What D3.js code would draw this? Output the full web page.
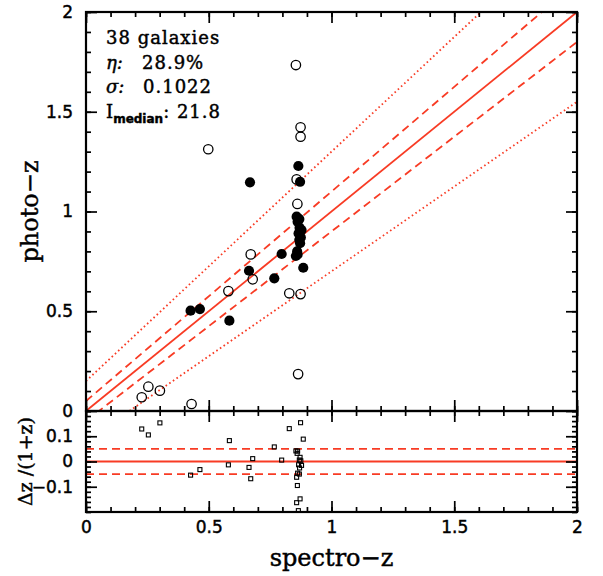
<!DOCTYPE html>
<html><head><meta charset="utf-8">
<script src="https://cdn.jsdelivr.net/npm/d3@7"></script>
<style>body{margin:0;background:#fff} text{stroke:#000;stroke-width:0.45px}</style>
</head><body>
<svg id="c" width="603" height="576"></svg>
<script>
// ---- data ----
const openSpec  = [0.227,0.254,0.301,0.430,0.864,0.874,0.828,0.580,0.679,0.671,0.861,0.858,0.498,0.874,0.874,0.855];
const openPhoto = [0.069,0.122,0.102,0.035,0.185,0.586,0.590,0.601,0.660,0.785,1.038,1.161,1.312,1.375,1.422,1.734];
const filledSpec  = [0.426,0.464,0.584,0.664,0.767,0.797,0.668,0.865,0.872,0.858,0.869,0.862,0.878,0.870,0.866,0.875,0.869,0.872,0.860,0.855,0.862,0.885];
const filledPhoto = [0.503,0.511,0.453,0.703,0.665,0.787,1.146,1.228,1.149,0.974,0.962,0.948,0.907,0.918,0.890,0.870,0.858,0.841,0.800,0.777,0.785,0.718];
const majorTicks = [0,0.5,1,1.5,2];
const minorTicks = d3.range(0,2.0001,0.1);
const resMajor = [-0.1,0,0.1];
const resMinor = d3.range(-0.2,0.2001,0.02);
const lineOffsets = [0.05,-0.05];
const outlierOffsets = [0.15,-0.15];
const statLabel = ["38 galaxies","η:","σ:","I"];
const statValue = ["","28.9%","0.1022","21.8"];

// ---- layout ----
const svg = d3.select("#c");
const X0=86, X1=577, YT=12, YM=411, YB=512;
const red = "#f83b24";
const x = d3.scaleLinear().domain([0,2]).range([X0,X1]);
const y = d3.scaleLinear().domain([0,2]).range([YM,YT]);
const yr = d3.scaleLinear().domain([-0.2,0.2]).range([YB,YM]);

const defs = svg.append("defs");
defs.append("clipPath").attr("id","cm").append("rect").attr("x",X0).attr("y",YT).attr("width",X1-X0).attr("height",YM-YT);
defs.append("clipPath").attr("id","cr").append("rect").attr("x",X0).attr("y",YM).attr("width",X1-X0).attr("height",YB-YM);

const gm = svg.append("g").attr("clip-path","url(#cm)");
const gr = svg.append("g").attr("clip-path","url(#cr)");

// main panel lines
const xs = x.domain();
const mkLine = f => d3.line().x(d=>x(d)).y(d=>y(d + f*(1+d)))(xs);
gm.append("path").attr("d",mkLine(0)).attr("stroke",red).attr("stroke-width",1.8).attr("fill","none");
lineOffsets.forEach(f=>gm.append("path").attr("d",mkLine(f)).attr("stroke",red).attr("stroke-width",1.8).attr("stroke-dasharray","8,5").attr("fill","none"));
outlierOffsets.forEach(f=>gm.append("path").attr("d",mkLine(f)).attr("stroke",red).attr("stroke-width",1.8).attr("stroke-dasharray","1.6,2.8").attr("fill","none"));

// points
gm.selectAll("circle.o").data(d3.range(openSpec.length)).join("circle")
  .attr("cx",i=>x(openSpec[i])).attr("cy",i=>y(openPhoto[i])).attr("r",4.7)
  .attr("fill","none").attr("stroke","#000").attr("stroke-width",1.3);
gm.selectAll("circle.f").data(d3.range(filledSpec.length)).join("circle")
  .attr("cx",i=>x(filledSpec[i])).attr("cy",i=>y(filledPhoto[i])).attr("r",5.1)
  .attr("fill","#000");

// residual panel
gr.append("line").attr("x1",X0).attr("x2",X1).attr("y1",yr(0)).attr("y2",yr(0)).attr("stroke",red).attr("stroke-width",1.8);
lineOffsets.forEach(f=>gr.append("line").attr("x1",X0).attr("x2",X1).attr("y1",yr(f)).attr("y2",yr(f))
  .attr("stroke",red).attr("stroke-width",1.8).attr("stroke-dasharray","8,5"));
const allSpec = openSpec.concat(filledSpec), allPhoto = openPhoto.concat(filledPhoto);
const res = allSpec.map((s,i)=>(s-allPhoto[i])/(1+s));
gr.selectAll("rect.r").data(d3.range(allSpec.length)).join("rect")
  .attr("x",i=>x(allSpec[i])-2).attr("y",i=>yr(res[i])-2).attr("width",4).attr("height",4)
  .attr("fill","none").attr("stroke","#000").attr("stroke-width",1.1);

// axes
function ax(gen, tr, vals, size, fmt, pad){
  const a = gen.tickValues(vals).tickSize(size).tickPadding(pad||3).tickFormat(fmt||"");
  const g = svg.append("g").attr("transform",tr).call(a);
  g.select(".domain").remove();
  g.selectAll("line").attr("stroke","#000").attr("stroke-width",1.7);
  g.selectAll("text").attr("font-family","DejaVu Sans").attr("font-size",17).attr("fill","#000");
  return g;
}
const fmt = d3.format("~g");
// main panel
ax(d3.axisBottom(x),`translate(0,${YM})`,majorTicks,-11);
ax(d3.axisBottom(x),`translate(0,${YM})`,minorTicks,-5);
ax(d3.axisTop(x),`translate(0,${YT})`,majorTicks,-11);
ax(d3.axisTop(x),`translate(0,${YT})`,minorTicks,-5);
ax(d3.axisLeft(y),`translate(${X0},0)`,majorTicks,-11,fmt,13);
ax(d3.axisLeft(y),`translate(${X0},0)`,minorTicks,-5);
ax(d3.axisRight(y),`translate(${X1},0)`,majorTicks,-11);
ax(d3.axisRight(y),`translate(${X1},0)`,minorTicks,-5);
// residual panel
ax(d3.axisTop(x),`translate(0,${YM})`,majorTicks,-11);
ax(d3.axisTop(x),`translate(0,${YM})`,minorTicks,-5);
ax(d3.axisBottom(x),`translate(0,${YB})`,majorTicks,-11,fmt,9);
ax(d3.axisBottom(x),`translate(0,${YB})`,minorTicks,-5);
ax(d3.axisLeft(yr),`translate(${X0},0)`,resMajor,-11,fmt,13);
ax(d3.axisLeft(yr),`translate(${X0},0)`,resMinor,-5);
ax(d3.axisRight(yr),`translate(${X1},0)`,resMajor,-11);
ax(d3.axisRight(yr),`translate(${X1},0)`,resMinor,-5);

// frames
svg.append("rect").attr("x",X0).attr("y",YT).attr("width",X1-X0).attr("height",YM-YT).attr("fill","none").attr("stroke","#000").attr("stroke-width",2.2);
svg.append("rect").attr("x",X0).attr("y",YM).attr("width",X1-X0).attr("height",YB-YM).attr("fill","none").attr("stroke","#000").attr("stroke-width",2.2);

// axis labels
svg.append("text").attr("x",(X0+X1)/2).attr("y",566).attr("text-anchor","middle")
  .attr("font-family","DejaVu Serif").attr("font-size",24).text("spectro−z");
svg.append("text").attr("transform",`translate(38,${(YT+YM)/2}) rotate(-90)`).attr("text-anchor","middle")
  .attr("font-family","DejaVu Serif").attr("font-size",24).text("photo−z");
svg.append("text").attr("transform",`translate(32,${(YM+YB)/2}) rotate(-90)`).attr("text-anchor","middle")
  .attr("font-family","DejaVu Serif").attr("font-size",19).text("Δz /(1+z)");

// stats text
const base = [44,68.5,93,117.5];
const valX = [0,142,143,0];
const st = svg.append("g").attr("font-family","DejaVu Serif").attr("font-size",18).attr("fill","#000");
st.append("text").attr("x",106).attr("y",base[0]).attr("letter-spacing",1).text(statLabel[0]);
st.append("text").attr("x",106).attr("y",base[1]).attr("font-style","italic").text(statLabel[1]);
st.append("text").attr("x",valX[1]).attr("y",base[1]).attr("letter-spacing",1).text(statValue[1]);
st.append("text").attr("x",106).attr("y",base[2]).attr("font-style","italic").text(statLabel[2]);
st.append("text").attr("x",valX[2]).attr("y",base[2]).attr("letter-spacing",1).text(statValue[2]);
const t4 = st.append("text").attr("x",106).attr("y",base[3]);
t4.append("tspan").text(statLabel[3]);
t4.append("tspan").attr("dy",5).attr("font-size",12).attr("font-weight","bold").attr("font-family","DejaVu Sans").text("median");
t4.append("tspan").attr("dy",-5).attr("letter-spacing",1).text(": "+statValue[3]);
</script>
</body></html>
